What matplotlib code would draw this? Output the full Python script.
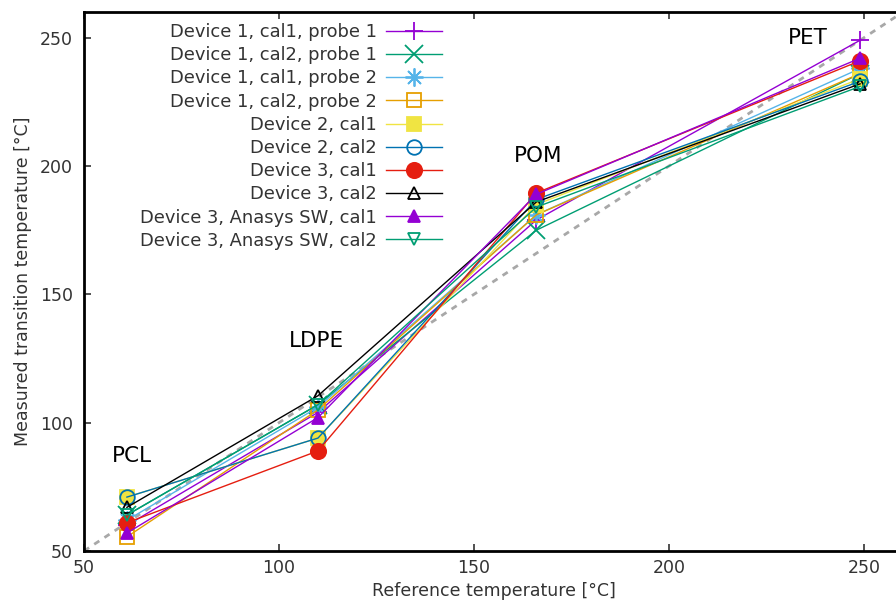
import matplotlib
matplotlib.use("Agg")
import matplotlib.pyplot as plt

# reference temperatures of the four polymers
ref_temp = [61, 110, 166, 249]
materials = ["PCL", "LDPE", "POM", "PET"]

# measured transition temperatures per setup
d1_cal1_p1 = [60, 104, 179, 249]
d1_cal2_p1 = [64, 107, 175, 236]
d1_cal1_p2 = [62, 106, 181, 238]
d1_cal2_p2 = [55.5, 105, 181, 236]
d2_cal1 = [71, 94, 185, 234]
d2_cal2 = [71, 94, 187, 233]
d3_cal1 = [61, 89, 189.5, 241]
d3_cal2 = [67, 110.5, 186, 232]
d3_sw_cal1 = [57, 102, 189, 242]
d3_sw_cal2 = [64, 107, 184, 231]

labels = ["Device 1, cal1, probe 1", "Device 1, cal2, probe 1",
          "Device 1, cal1, probe 2", "Device 1, cal2, probe 2",
          "Device 2, cal1", "Device 2, cal2", "Device 3, cal1", "Device 3, cal2",
          "Device 3, Anasys SW, cal1", "Device 3, Anasys SW, cal2"]
series = [d1_cal1_p1, d1_cal2_p1, d1_cal1_p2, d1_cal2_p2, d2_cal1, d2_cal2,
          d3_cal1, d3_cal2, d3_sw_cal1, d3_sw_cal2]

# gnuplot-like styles: color, marker, filled, size
styles = [("#9400d3", "+", True, 13),
          ("#009e73", "x", True, 13),
          ("#56b4e9", (8, 2, 0), True, 13),
          ("#e69f00", "s", False, 10),
          ("#f0e442", "s", True, 10),
          ("#0072b2", "o", False, 10.5),
          ("#e51e10", "o", True, 11),
          ("#000000", "^", False, 9),
          ("#9400d3", "^", True, 9),
          ("#009e73", "v", False, 9)]

plt.rcParams['font.family'] = 'DejaVu Sans'

fig = plt.figure(figsize=(8.96, 6.03), dpi=100)
ax = fig.add_axes([84/896, 52/603, 819/896, 539/603])

ax.plot([50, 260], [50, 260], color="#a8a8a8", lw=2, ls=(0, (2.2, 2.2)), zorder=1)

for y, lab, (c, m, filled, ms) in zip(series, labels, styles):
    ax.plot(ref_temp, y, color=c, lw=1.0, marker=m, markersize=ms,
            markerfacecolor=c if filled else "none", markeredgecolor=c,
            markeredgewidth=1.3, label=lab, zorder=2)

# material labels
ax.text(57.2, 87, "PCL", fontsize=15.5, ha="left", va="center")
ax.text(109.5, 132, "LDPE", fontsize=15.5, ha="center", va="center")
ax.text(166.4, 204, "POM", fontsize=15.5, ha="center", va="center")
ax.text(235.6, 250, "PET", fontsize=15.5, ha="center", va="center")

ax.set_xlim(50, 260)
ax.set_ylim(50, 260)
ax.set_xticks([50, 100, 150, 200, 250])
ax.set_yticks([50, 100, 150, 200, 250])
ax.tick_params(direction="in", length=5, width=1.2, top=True, right=True,
               labelsize=12.5, colors="#333333")
ax.tick_params(axis="y", pad=8)
ax.tick_params(axis="x", pad=6)
for s in ax.spines.values():
    s.set_linewidth(2)

ax.set_xlabel("Reference temperature [°C]", fontsize=12.5, color="#333333", labelpad=3)
ax.set_ylabel("Measured transition temperature [°C]", fontsize=12.5, color="#333333", labelpad=6)

leg = ax.legend(loc="upper right", bbox_to_anchor=(442/896, 1 - 23/603),
                bbox_transform=fig.transFigure, frameon=False, markerfirst=False,
                fontsize=12.9, handlelength=3.1, handletextpad=0.55,
                labelspacing=0.29, borderpad=0, borderaxespad=0)
for t in leg.get_texts():
    t.set_color("#333333")

fig.savefig("out.png", dpi=100)
